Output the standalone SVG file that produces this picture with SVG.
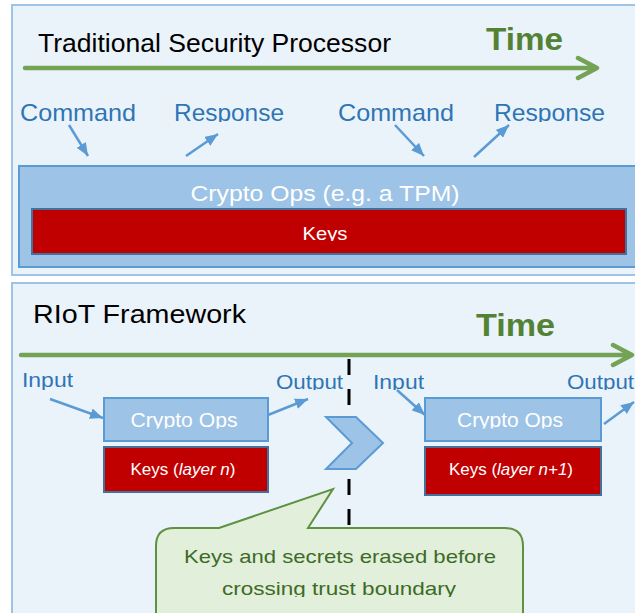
<svg xmlns="http://www.w3.org/2000/svg" width="635" height="613" viewBox="0 0 635 613">
<defs>
<style>
text{font-family:"Liberation Sans",Arial,sans-serif}
.panel{fill:#EBF3FA;stroke:#9DC3E6;stroke-width:2}
.title{fill:#000;font-size:26px}
.time{fill:#548235;font-size:32px;font-weight:bold}
.lbl{fill:#2E75B6;font-size:24px}
.lbl2{fill:#2E75B6;font-size:20px}
.ops{fill:#9DC3E6;stroke:#5B9BD5;stroke-width:2}
.keys{fill:#C00000;stroke:#41719C;stroke-width:2}
.wt{fill:#fff;text-anchor:middle}
.conn{fill:none;stroke:#5B9BD5;stroke-width:2.5}
.tarrow{fill:none;stroke:#75A356;stroke-width:4.5;stroke-linecap:round;stroke-linejoin:round}
.callout{fill:#E2EFDA;stroke:#5E9140;stroke-width:2}
.ct{fill:#3D6B27;font-size:19px;text-anchor:middle}
</style>
<marker id="ah" viewBox="0 0 12 10" refX="12" refY="5" markerWidth="13" markerHeight="11" markerUnits="userSpaceOnUse" orient="auto">
<path d="M0,0 L12,5 L0,10 Z" fill="#5B9BD5"/>
</marker>
<clipPath id="cTop" clipPathUnits="userSpaceOnUse"><rect x="0" y="80" width="635" height="42"/></clipPath>
<clipPath id="cKeysTop" clipPathUnits="userSpaceOnUse"><rect x="0" y="210" width="635" height="31"/></clipPath>
<clipPath id="cIO" clipPathUnits="userSpaceOnUse"><rect x="0" y="360" width="635" height="30"/></clipPath>
<clipPath id="cOps" clipPathUnits="userSpaceOnUse"><rect x="0" y="400" width="635" height="28.5"/></clipPath>
<clipPath id="cCall" clipPathUnits="userSpaceOnUse"><rect x="0" y="530" width="635" height="67"/></clipPath>
</defs>

<!-- Top panel -->
<g id="panel-traditional">
<rect class="panel" x="12" y="5" width="640" height="270"/>
<text class="title" x="38" y="52" textLength="353" lengthAdjust="spacingAndGlyphs">Traditional Security Processor</text>
<text class="time" x="486" y="50" textLength="77" lengthAdjust="spacingAndGlyphs">Time</text>
</g>

<g id="labels-top" clip-path="url(#cTop)">
<text class="lbl" x="20" y="121" textLength="116" lengthAdjust="spacingAndGlyphs">Command</text>
<text class="lbl" x="174" y="121" textLength="110" lengthAdjust="spacingAndGlyphs">Response</text>
<text class="lbl" x="338" y="121" textLength="116" lengthAdjust="spacingAndGlyphs">Command</text>
<text class="lbl" x="494" y="121" textLength="111" lengthAdjust="spacingAndGlyphs">Response</text>
</g>

<g id="node-crypto-tpm">
<rect class="ops" x="19" y="166" width="630" height="101"/>
<text class="wt" x="325" y="201" font-size="22" textLength="269" lengthAdjust="spacingAndGlyphs">Crypto Ops (e.g. a TPM)</text>
</g>
<g id="node-keys-top">
<rect class="keys" x="32" y="209" width="594" height="45"/>
<text class="wt" x="325" y="240" font-size="18" clip-path="url(#cKeysTop)" textLength="45" lengthAdjust="spacingAndGlyphs">Keys</text>
</g>

<!-- Bottom panel -->
<g id="panel-riot">
<rect class="panel" x="12" y="283" width="640" height="340"/>
<text class="title" x="33" y="323" font-size="28" textLength="213" lengthAdjust="spacingAndGlyphs">RIoT Framework</text>
<text class="time" x="476" y="336" textLength="79" lengthAdjust="spacingAndGlyphs">Time</text>
</g>

<g id="labels-io" clip-path="url(#cIO)">
<text class="lbl2" x="22" y="387" textLength="51" lengthAdjust="spacingAndGlyphs">Input</text>
<text class="lbl2" x="276" y="389" textLength="67" lengthAdjust="spacingAndGlyphs">Output</text>
<text class="lbl2" x="373" y="389" textLength="51" lengthAdjust="spacingAndGlyphs">Input</text>
<text class="lbl2" x="567" y="389" textLength="67" lengthAdjust="spacingAndGlyphs">Output</text>
</g>

<g id="node-ops-n">
<rect class="ops" x="104" y="398" width="164" height="43"/>
<text class="wt" x="184" y="427" font-size="20" clip-path="url(#cOps)" textLength="107" lengthAdjust="spacingAndGlyphs">Crypto Ops</text>
</g>
<g id="node-keys-n">
<rect class="keys" x="104" y="447" width="164" height="45"/>
<text class="wt" x="183" y="475" font-size="17" textLength="105" lengthAdjust="spacingAndGlyphs">Keys (<tspan font-style="italic">layer n</tspan>)</text>
</g>

<g id="node-ops-n1">
<rect class="ops" x="425" y="398" width="176" height="43"/>
<text class="wt" x="510" y="427" font-size="20" clip-path="url(#cOps)" textLength="106" lengthAdjust="spacingAndGlyphs">Crypto Ops</text>
</g>
<g id="node-keys-n1">
<rect class="keys" x="425" y="447" width="176" height="48"/>
<text class="wt" x="511" y="475" font-size="17" textLength="124" lengthAdjust="spacingAndGlyphs">Keys (<tspan font-style="italic">layer n+1</tspan>)</text>
</g>

<g id="boundary">
<line x1="349" y1="359" x2="349" y2="526" stroke="#000" stroke-width="3" stroke-dasharray="16 14"/>
</g>

<g id="node-chevron">
<polygon points="326,417 356,417 383,443 356,469 326,469 352,443" fill="#9DC3E6" stroke="#5B9BD5" stroke-width="2" stroke-linejoin="miter"/>
</g>

<g id="node-callout">
<path class="callout" d="M174,528 L219,528 L333,489 L308,528 L505,528 Q523,528 523,546 L523,630 L156,630 L156,546 Q156,528 174,528 Z"/>
<g clip-path="url(#cCall)">
<text class="ct" x="340" y="563" textLength="312" lengthAdjust="spacingAndGlyphs">Keys and secrets erased before</text>
<text class="ct" x="339" y="595" textLength="234" lengthAdjust="spacingAndGlyphs">crossing trust boundary</text>
</g>
</g>

<!-- Connectors -->
<g id="connectors">
<path class="tarrow" d="M25,68 L596,68 M578,58 L597,68 L578,78"/>
<path class="tarrow" d="M21,355 L631,355 M613,345 L632,355 L613,365"/>
<line class="conn" x1="69" y1="125" x2="88" y2="156" marker-end="url(#ah)"/>
<line class="conn" x1="186" y1="156" x2="218" y2="134" marker-end="url(#ah)"/>
<line class="conn" x1="395" y1="125" x2="424" y2="156" marker-end="url(#ah)"/>
<line class="conn" x1="474" y1="157" x2="509" y2="125" marker-end="url(#ah)"/>
<line class="conn" x1="50" y1="399" x2="103" y2="418" marker-end="url(#ah)"/>
<line class="conn" x1="268" y1="415" x2="308" y2="399" marker-end="url(#ah)"/>
<line class="conn" x1="397" y1="390" x2="425" y2="415" marker-end="url(#ah)"/>
<line class="conn" x1="604" y1="424" x2="634" y2="402" marker-end="url(#ah)"/>
</g>
</svg>
